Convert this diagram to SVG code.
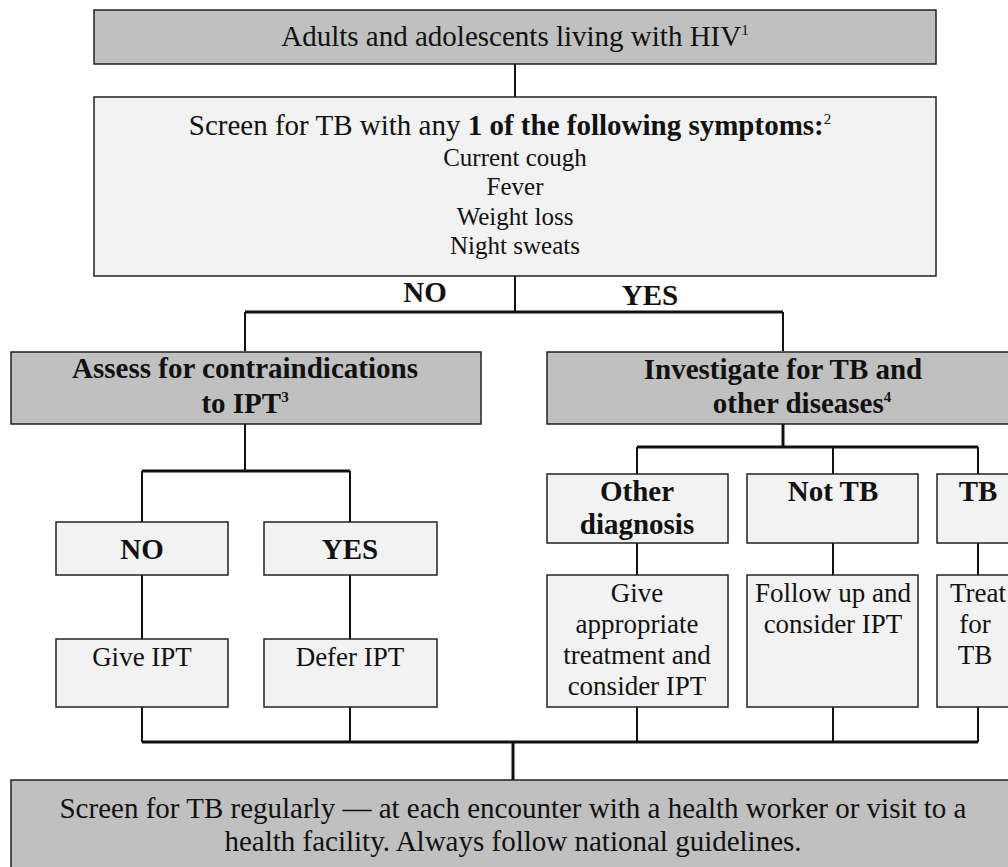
<svg xmlns="http://www.w3.org/2000/svg" width="1008" height="867" viewBox="0 0 1008 867">
<style>
text{font-family:"Liberation Serif","Times New Roman",serif;fill:#111;text-anchor:middle}
.m{font-size:29px}
.s{font-size:25px}
.l{font-size:27px}
.b{font-weight:bold}
.sup{font-size:15px}
.dark{fill:#c0c0c0;stroke:#222;stroke-width:1.5}
.light{fill:#f2f2f2;stroke:#222;stroke-width:1.5}
.c{stroke:#111;stroke-width:2;fill:none}
.ct{stroke:#111;stroke-width:3;fill:none}
</style>
<rect width="1008" height="867" fill="#fff"/>
<g id="connectors">
<line class="c" x1="515" y1="64" x2="515" y2="97"/>
<line class="c" x1="515" y1="276" x2="515" y2="312"/>
<line class="ct" x1="245" y1="312" x2="783" y2="312"/>
<line class="c" x1="245" y1="312" x2="245" y2="351"/>
<line class="c" x1="783" y1="312" x2="783" y2="351"/>
<line class="c" x1="245" y1="424" x2="245" y2="471"/>
<line class="ct" x1="142" y1="471" x2="350" y2="471"/>
<line class="c" x1="142" y1="471" x2="142" y2="522"/>
<line class="c" x1="350" y1="471" x2="350" y2="522"/>
<line class="c" x1="142" y1="575" x2="142" y2="639"/>
<line class="c" x1="350" y1="575" x2="350" y2="639"/>
<line class="ct" x1="783" y1="424" x2="783" y2="447"/>
<line class="ct" x1="637" y1="447" x2="978" y2="447"/>
<line class="c" x1="637" y1="447" x2="637" y2="474"/>
<line class="c" x1="833" y1="447" x2="833" y2="474"/>
<line class="c" x1="978" y1="447" x2="978" y2="474"/>
<line class="c" x1="637" y1="543" x2="637" y2="575"/>
<line class="c" x1="833" y1="543" x2="833" y2="575"/>
<line class="c" x1="978" y1="543" x2="978" y2="575"/>
<line class="c" x1="142" y1="707" x2="142" y2="742"/>
<line class="c" x1="350" y1="707" x2="350" y2="742"/>
<line class="c" x1="637" y1="707" x2="637" y2="742"/>
<line class="c" x1="833" y1="707" x2="833" y2="742"/>
<line class="c" x1="978" y1="707" x2="978" y2="742"/>
<line class="ct" x1="142" y1="742" x2="978" y2="742"/>
<line class="ct" x1="513" y1="742" x2="513" y2="780"/>
</g>
<g id="n-adults">
<rect class="dark" x="94" y="10" width="842" height="54"/>
<text class="m" x="515" y="46">Adults and adolescents living with HIV<tspan class="sup" dy="-11">1</tspan></text>
</g>
<g id="n-screen">
<rect class="light" x="94" y="97" width="842" height="179"/>
<text class="m" x="510" y="135">Screen for TB with any <tspan class="b">1 of the following symptoms:</tspan><tspan class="sup" dy="-11">2</tspan></text>
<text class="s" x="515" y="166">Current cough</text>
<text class="s" x="515" y="195">Fever</text>
<text class="s" x="515" y="225">Weight loss</text>
<text class="s" x="515" y="254">Night sweats</text>
</g>
<g id="labels">
<text class="m b" x="425" y="302">NO</text>
<text class="m b" x="650" y="305">YES</text>
</g>
<g id="n-assess">
<rect class="dark" x="11" y="352" width="470" height="72"/>
<text class="m b" x="245" y="378">Assess for contraindications</text>
<text class="m b" x="245" y="413">to IPT<tspan class="sup" dy="-11">3</tspan></text>
</g>
<g id="n-investigate">
<rect class="dark" x="547" y="352" width="480" height="72"/>
<text class="m b" x="783" y="379">Investigate for TB and</text>
<text class="m b" x="802" y="413">other diseases<tspan class="sup" dy="-11">4</tspan></text>
</g>
<g id="n-no">
<rect class="light" x="56" y="522" width="172" height="53"/>
<text class="m b" x="142" y="559">NO</text>
</g>
<g id="n-yes">
<rect class="light" x="264" y="522" width="173" height="53"/>
<text class="m b" x="350" y="559">YES</text>
</g>
<g id="n-give-ipt">
<rect class="light" x="56" y="639" width="172" height="68"/>
<text class="l" x="142" y="666">Give IPT</text>
</g>
<g id="n-defer-ipt">
<rect class="light" x="264" y="639" width="173" height="68"/>
<text class="l" x="350" y="666">Defer IPT</text>
</g>
<g id="n-other">
<rect class="light" x="547" y="474" width="181" height="69"/>
<text class="m b" x="637" y="501">Other</text>
<text class="m b" x="637" y="534">diagnosis</text>
</g>
<g id="n-nottb">
<rect class="light" x="747" y="474" width="171" height="69"/>
<text class="m b" x="833" y="501">Not TB</text>
</g>
<g id="n-tb">
<rect class="light" x="937" y="474" width="90" height="69"/>
<text class="m b" x="978" y="501">TB</text>
</g>
<g id="n-give-appropriate">
<rect class="light" x="547" y="575" width="181" height="132"/>
<text class="l" x="637" y="602">Give</text>
<text class="l" x="637" y="633">appropriate</text>
<text class="l" x="637" y="664">treatment and</text>
<text class="l" x="637" y="695">consider IPT</text>
</g>
<g id="n-follow">
<rect class="light" x="747" y="575" width="171" height="132"/>
<text class="l" x="833" y="602">Follow up and</text>
<text class="l" x="833" y="633">consider IPT</text>
</g>
<g id="n-treat">
<rect class="light" x="937" y="575" width="90" height="132"/>
<text class="l" x="978" y="602">Treat</text>
<text class="l" x="975" y="633">for</text>
<text class="l" x="975" y="664">TB</text>
</g>
<g id="n-regular">
<rect class="dark" x="11" y="780" width="1020" height="100"/>
<text class="m" x="513" y="818">Screen for TB regularly — at each encounter with a health worker or visit to a</text>
<text class="m" x="513" y="851">health facility. Always follow national guidelines.</text>
</g>
</svg>
